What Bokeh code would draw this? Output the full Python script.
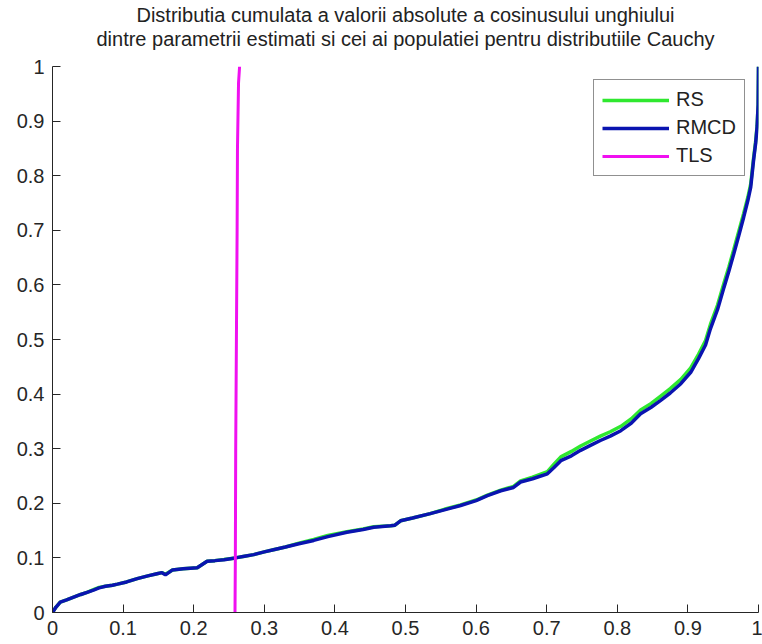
from bokeh.plotting import figure
from bokeh.models import FixedTicker, Legend, LegendItem, Range1d, Title
from bokeh.embed import file_html
from bokeh.resources import INLINE

title_lines = ["Distributia cumulata a valorii absolute a cosinusului unghiului",
               "dintre parametrii estimati si cei ai populatiei pentru distributiile Cauchy"]

tick_values = [0.0, 0.1, 0.2, 0.3, 0.4, 0.5, 0.6, 0.7, 0.8, 0.9, 1.0]
tick_labels = ["0", "0.1", "0.2", "0.3", "0.4", "0.5", "0.6", "0.7", "0.8", "0.9", "1"]

series_names = ["RS", "RMCD", "TLS"]
series_colors = ["#2fe82f", "#0a14b0", "#f010f0"]

rmcd_x = [0.0, 0.005, 0.011, 0.02, 0.03, 0.04, 0.049, 0.058, 0.066, 0.075,
          0.085, 0.092, 0.105, 0.12, 0.135, 0.148, 0.155, 0.16, 0.17, 0.185,
          0.195, 0.205, 0.212, 0.219, 0.23, 0.243, 0.259, 0.272, 0.285, 0.3,
          0.313, 0.33, 0.349, 0.37, 0.39, 0.417, 0.44, 0.455, 0.479, 0.485,
          0.493, 0.51, 0.535, 0.555, 0.578, 0.6, 0.616, 0.635, 0.653, 0.663,
          0.68, 0.701, 0.71, 0.72, 0.735, 0.748, 0.762, 0.776, 0.79, 0.805,
          0.82, 0.833, 0.848, 0.861, 0.875, 0.89, 0.904, 0.915, 0.925, 0.932,
          0.942, 0.951, 0.958, 0.965, 0.972, 0.979, 0.985, 0.989, 0.993, 0.996,
          0.998, 0.9995, 1.0]
rmcd_y = [0.0, 0.01, 0.019, 0.023, 0.028, 0.033, 0.037, 0.041, 0.045, 0.048,
          0.05, 0.052, 0.056, 0.062, 0.067, 0.071, 0.073, 0.069, 0.078, 0.08,
          0.081, 0.082, 0.088, 0.094, 0.095, 0.0965, 0.1, 0.103, 0.106, 0.111,
          0.115, 0.12, 0.126, 0.132, 0.139, 0.147, 0.152, 0.156, 0.159, 0.16,
          0.168, 0.173, 0.181, 0.188, 0.196, 0.205, 0.214, 0.223, 0.229, 0.239,
          0.245, 0.254, 0.265, 0.278, 0.287, 0.297, 0.306, 0.315, 0.323, 0.333,
          0.347, 0.364, 0.376, 0.388, 0.402, 0.419, 0.44, 0.465, 0.49, 0.52,
          0.555, 0.595, 0.625, 0.657, 0.69, 0.724, 0.755, 0.779, 0.828, 0.86,
          0.889, 0.93, 1.0]

rs_x = [0.0, 0.005, 0.011, 0.02, 0.03, 0.04, 0.049, 0.058, 0.066, 0.075,
        0.085, 0.092, 0.105, 0.12, 0.135, 0.148, 0.155, 0.16, 0.17, 0.185,
        0.195, 0.205, 0.212, 0.219, 0.23, 0.243, 0.259, 0.272, 0.285, 0.3,
        0.313, 0.33, 0.349, 0.37, 0.39, 0.417, 0.44, 0.455, 0.479, 0.485,
        0.493, 0.51, 0.535, 0.555, 0.578, 0.6, 0.616, 0.635, 0.653, 0.663,
        0.68, 0.701, 0.71, 0.72, 0.735, 0.748, 0.762, 0.776, 0.79, 0.805,
        0.82, 0.833, 0.848, 0.861, 0.875, 0.89, 0.904, 0.915, 0.925, 0.932,
        0.942, 0.951, 0.958, 0.965, 0.972, 0.979, 0.985, 0.989, 0.993, 0.996,
        0.998, 0.9995, 1.0]
rs_y = [0.0, 0.01, 0.019, 0.023, 0.028, 0.033, 0.037, 0.042, 0.046, 0.048,
        0.05, 0.052, 0.056, 0.062, 0.067, 0.071, 0.073, 0.07, 0.078, 0.08,
        0.081, 0.082, 0.088, 0.094, 0.095, 0.097, 0.1, 0.103, 0.106, 0.111,
        0.115, 0.12, 0.127, 0.134, 0.141, 0.148, 0.153, 0.157, 0.159, 0.16,
        0.168, 0.173, 0.181, 0.189, 0.197, 0.206, 0.215, 0.224, 0.231, 0.241,
        0.248, 0.258, 0.271, 0.285, 0.295, 0.305, 0.314, 0.323, 0.331, 0.341,
        0.355, 0.371, 0.383, 0.396, 0.41, 0.427, 0.448, 0.473, 0.498, 0.528,
        0.563, 0.603, 0.633, 0.665, 0.698, 0.731, 0.761, 0.785, 0.832, 0.863,
        0.891, 0.93, 1.0]

tls_x = [0.2585, 0.259, 0.2595, 0.2605, 0.2615, 0.262, 0.2635, 0.265]
tls_y = [0.0, 0.1, 0.3, 0.5, 0.7, 0.85, 0.97, 1.0]

FONT = "Liberation Sans"

p = figure(width=762, height=644, output_backend="svg", toolbar_location=None,
           x_range=Range1d(0, 1), y_range=Range1d(0, 1),
           min_border_left=52, min_border_right=4, min_border_top=66,
           min_border_bottom=32, title=None)
p.background_fill_color = "white"
p.border_fill_color = "white"
p.outline_line_color = None
p.grid.visible = False

# invisible spacer between the frame and the two title lines
p.add_layout(Title(text=" ", text_font_size="1px", standoff=14,
                   text_color="white"), "above")
for line in (title_lines[1], title_lines[0]):
    t = Title(text=line, align="center", text_font=FONT, text_font_style="normal",
              text_font_size="20px", text_color="#222222", standoff=0, offset=0)
    p.add_layout(t, "above")

overrides = {v: l for v, l in zip(tick_values, tick_labels)}
for ax in (p.xaxis[0], p.yaxis[0]):
    ax.ticker = FixedTicker(ticks=tick_values)
    ax.major_label_overrides = overrides
    ax.major_tick_in = 8
    ax.major_tick_out = 0
    ax.minor_tick_line_color = None
    ax.axis_line_color = "#262626"
    ax.major_tick_line_color = "#262626"
    ax.major_label_text_font = FONT
    ax.major_label_text_font_size = "20px"
    ax.major_label_text_color = "#262626"
    ax.major_label_standoff = 8

r_rs = p.line(rs_x, rs_y, line_color=series_colors[0], line_width=3.5)
r_rmcd = p.line(rmcd_x, rmcd_y, line_color=series_colors[1], line_width=3.5)
r_tls = p.line(tls_x, tls_y, line_color=series_colors[2], line_width=3)

legend = Legend(items=[LegendItem(label=series_names[0], renderers=[r_rs]),
                       LegendItem(label=series_names[1], renderers=[r_rmcd]),
                       LegendItem(label=series_names[2], renderers=[r_tls])],
                location=(541, 436), orientation="vertical")
legend.border_line_color = "#222222"
legend.border_line_width = 1
legend.background_fill_color = "white"
legend.background_fill_alpha = 1
legend.label_text_font = FONT
legend.label_text_font_size = "20px"
legend.label_text_color = "#222222"
legend.glyph_width = 67
legend.glyph_height = 20
legend.label_height = 20
legend.label_standoff = 7
legend.spacing = 5
legend.padding = 8
legend.margin = 0
p.add_layout(legend, "center")

open("out.html", "w").write(file_html(p, INLINE))
